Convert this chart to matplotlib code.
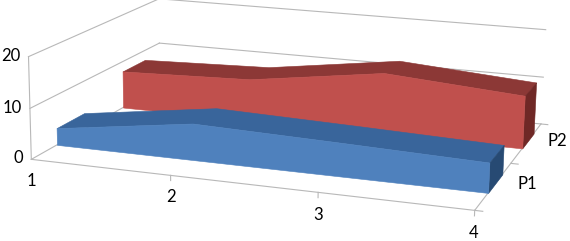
import matplotlib
matplotlib.use('Agg')
import matplotlib.pyplot as plt
from mpl_toolkits.mplot3d import proj3d
from mpl_toolkits.mplot3d.art3d import Poly3DCollection

plt.rcParams['font.family'] = ['Lato', 'DejaVu Sans']

categories = [1, 2, 3, 4]
p1_values = [3.4, 7.2, 6.5, 5.7]
p2_values = [7.9, 8.8, 12.7, 10.7]
series_names = ['P1', 'P2']
z_ticks = [0, 10, 20]

W, H = 570, 241
grid_col = '#b8b8b8'

fig = plt.figure(figsize=(W / 100, H / 100), dpi=100)
ax = fig.add_subplot(projection='3d', computed_zorder=False)
ax.set_axis_off()
ax.patch.set_alpha(0)
ax.set_xlim(1, 4, view_margin=0)
ax.set_ylim(0, 2, view_margin=0)
ax.set_zlim(0, 20, view_margin=0)

# view fitted against the box corners of the reference
ax.set_box_aspect((1, 0.7122, 0.2328))
ax.view_init(elev=14.1824, azim=-71.4049, roll=-0.7654)
ax.set_proj_type('persp', focal_length=0.5842)
s = 0.9272
asp = W / H
ax.set_position([0.5106 - s / 2, 0.5883 - s * asp / 2, s, s * asp])

# walls
for z in z_ticks:
    ax.plot([1, 1], [0, 2], [z, z], color=grid_col, lw=0.8, zorder=1)
    ax.plot([1, 4], [2, 2], [z, z], color=grid_col, lw=0.8, zorder=1)
ax.plot([1, 1], [0, 0], [0, 20], color=grid_col, lw=0.8, zorder=1)
# floor edges and ticks
ax.plot([1, 4], [0, 0], [0, 0], color=grid_col, lw=0.8, zorder=1)
ax.plot([4, 4], [0, 2], [0, 0], color=grid_col, lw=0.8, zorder=1)
for x in categories[1:]:
    ax.plot([x, x], [0, 0], [0, -1], color=grid_col, lw=0.8, zorder=1)
for y in [0, 1, 2]:
    ax.plot([4, 4.05], [y, y], [0, 0], color=grid_col, lw=0.8, zorder=1)


def band(values, y0, y1, front, top, cap, zo):
    n = len(categories)
    front_face = [(categories[i], y0, values[i]) for i in range(n)]
    front_face += [(categories[i], y0, 0) for i in range(n - 1, -1, -1)]
    top_face = [(categories[i], y0, values[i]) for i in range(n)]
    top_face += [(categories[i], y1, values[i]) for i in range(n - 1, -1, -1)]
    cap_face = [(4, y0, 0), (4, y1, 0), (4, y1, values[-1]), (4, y0, values[-1])]
    for verts, col, z in [(top_face, top, zo), (cap_face, cap, zo + 0.1), (front_face, front, zo + 0.2)]:
        ax.add_collection3d(Poly3DCollection([verts], facecolor=col, edgecolor=col, linewidth=0.4, zorder=z))


band(p2_values, 1.36, 1.74, '#c0504d', '#8c3836', '#6f2826', 2)
band(p1_values, 0.35, 0.75, '#4f81bd', '#39659b', '#274a73', 3)


# labels go through the 3d projection, then sit on the 2d axes
def label(x, y, z, txt, ha='center'):
    px, py, _ = proj3d.proj_transform(x, y, z, ax.get_proj())
    ax.text2D(px, py, txt, transform=ax.transData, ha=ha, va='center', fontsize=12, color='black')


for x in categories:
    label(x, 0, -4.2, str(x))
for z in z_ticks:
    label(0.94, 0, z, str(z), ha='right')
for y, name in zip([0.5, 1.5], series_names):
    label(4.215, y, 1, name)

fig.savefig('out.png', dpi=100)
